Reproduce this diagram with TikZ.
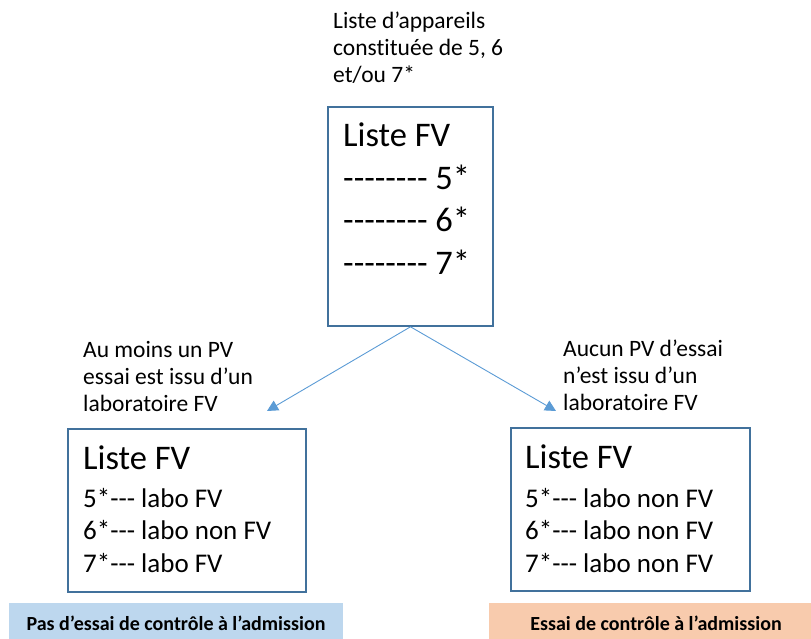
\documentclass[tikz,border=0pt]{standalone}
\usepackage{fontspec}
\setmainfont{Carlito}[Ligatures=CommonOff]
\usetikzlibrary{arrows.meta}
\definecolor{boxline}{HTML}{41719C}
\definecolor{arrowc}{HTML}{5B9BD5}
\definecolor{barblue}{HTML}{BDD7EE}
\definecolor{barpeach}{HTML}{F8CBAD}
\newcommand\hmk{\hbox{-}}
\begin{document}
\begin{tikzpicture}[x=1pt,y=-1pt,
  framebox/.style={draw=boxline, line width=1.6pt, inner sep=0pt, fill=white},
  connarrow/.style={draw=arrowc, line width=0.9pt, -{Triangle[length=11pt,width=11pt]}},
  captxt/.style={anchor=base west, inner sep=0pt, font=\fontsize{23.5}{27}\selectfont},
  boxtitle/.style={anchor=base west, inner sep=0pt, font=\fontsize{34.5}{42.5}\selectfont},
  itemlist/.style={anchor=base west, inner sep=0pt, font=\fontsize{27}{32.5}\selectfont},
  bottombar/.style={anchor=base, inner sep=0pt, minimum width=334pt, text height=27pt, text depth=12pt, font=\bfseries\fontsize{20}{24}\selectfont}
]
\useasboundingbox (0,0) rectangle (811,639);

% boxes
\node[framebox, minimum width=165pt, minimum height=219pt] (topbox) at (410.5,216.5) {};
\node[framebox, minimum width=238pt, minimum height=163pt] (lbox) at (187,510.5) {};
\node[framebox, minimum width=239pt, minimum height=163pt] (rbox) at (630.5,509.5) {};

% top caption and contents
\node[captxt] (topcap) at (333,29) {\begin{tabular}[t]{@{}l@{}}Liste d’appareils\\constituée de 5, 6\\et/ou 7*\end{tabular}};
\node[boxtitle] (toplist) at (343,147) {\begin{tabular}[t]{@{}l@{}}Liste FV\\\hmk\hmk\hmk\hmk\hmk\hmk\hmk\hmk{} 5*\\\hmk\hmk\hmk\hmk\hmk\hmk\hmk\hmk{} 6*\\\hmk\hmk\hmk\hmk\hmk\hmk\hmk\hmk{} 7*\end{tabular}};

% connectors
\coordinate (lt) at (267,411);
\coordinate (rt) at (556,411);
\draw[connarrow] (topbox.south) -- (lt);
\draw[connarrow] (topbox.south) -- (rt);

% side captions
\node[captxt] (lcap) at (83,357) {\begin{tabular}[t]{@{}l@{}}Au moins un PV\\essai est issu d’un\\laboratoire FV\end{tabular}};
\node[captxt] (rcap) at (563,356) {\begin{tabular}[t]{@{}l@{}}Aucun PV d’essai\\n’est issu d’un\\laboratoire FV\end{tabular}};

% lower boxes content
\node[boxtitle] (ltitle) at (83,469) {Liste FV};
\node[itemlist] (llist) at (83,507) {\begin{tabular}[t]{@{}l@{}}5*\hmk\hmk\hmk{} labo FV\\6*\hmk\hmk\hmk{} labo non FV\\7*\hmk\hmk\hmk{} labo FV\end{tabular}};
\node[boxtitle] (rtitle) at (525,468) {Liste FV};
\node[itemlist] (rlist) at (525,507) {\begin{tabular}[t]{@{}l@{}}5*\hmk\hmk\hmk{} labo non FV\\6*\hmk\hmk\hmk{} labo non FV\\7*\hmk\hmk\hmk{} labo non FV\end{tabular}};

% bottom bars
\node[bottombar, fill=barblue] (lbar) at (176,630) {Pas d’essai de contrôle à l’admission};
\node[bottombar, fill=barpeach] (rbar) at (656,630) {Essai de contrôle à l’admission};
\end{tikzpicture}
\end{document}
